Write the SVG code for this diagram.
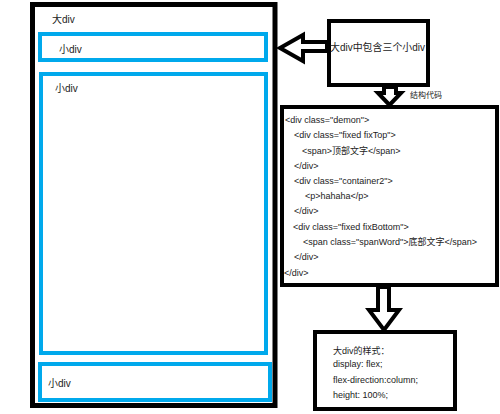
<svg xmlns="http://www.w3.org/2000/svg" width="500" height="414" viewBox="0 0 500 414">
<style>
.box{fill:#fff;stroke:#000;stroke-width:4}
.outer{fill:#fff;stroke:#000;stroke-width:5}
.blue{fill:#fff;stroke:#00a9ec;stroke-width:4}
.arrow{fill:#fff;stroke:#000;stroke-width:4;stroke-linejoin:miter}
text{font-family:"Liberation Sans","Noto Sans CJK SC",sans-serif;fill:#222}
.lbl{font-size:10px}
.code{font-size:9px}
.small{font-size:8px}
</style>
<rect width="500" height="414" fill="#fff"/>
<g id="big-div">
<rect class="outer" x="32.5" y="4.5" width="242.5" height="401"/>
<text class="lbl" x="52" y="23">大div</text>
</g>
<g id="small-div-top">
<rect class="blue" x="40" y="34" width="226" height="26"/>
<text class="lbl" x="59" y="53">小div</text>
</g>
<g id="small-div-middle">
<rect class="blue" x="41" y="74" width="225" height="279"/>
<text class="lbl" x="55" y="92">小div</text>
</g>
<g id="small-div-bottom">
<rect class="blue" x="40" y="364" width="230" height="36"/>
<text class="lbl" x="48" y="387">小div</text>
</g>
<g id="note">
<rect class="box" x="329" y="21" width="99" height="64"/>
<text class="lbl" x="330" y="51" textLength="95" lengthAdjust="spacingAndGlyphs">大div中包含三个小div</text>
</g>
<g id="code">
<rect class="box" x="282" y="107" width="215" height="178"/>
<g class="code">
<text x="285" y="123">&lt;div class="demon"&gt;</text>
<text x="294" y="138">&lt;div class="fixed fixTop"&gt;</text>
<text x="302" y="154">&lt;span&gt;顶部文字&lt;/span&gt;</text>
<text x="294" y="169">&lt;/div&gt;</text>
<text x="294" y="184">&lt;div class="container2"&gt;</text>
<text x="305" y="199">&lt;p&gt;hahaha&lt;/p&gt;</text>
<text x="294" y="214">&lt;/div&gt;</text>
<text x="293" y="230">&lt;div class="fixed fixBottom"&gt;</text>
<text x="303" y="245">&lt;span class="spanWord"&gt;底部文字&lt;/span&gt;</text>
<text x="294" y="260">&lt;/div&gt;</text>
<text x="284" y="276">&lt;/div&gt;</text>
</g>
</g>
<g id="style">
<rect class="box" x="315" y="332" width="140" height="77"/>
<g class="code">
<text x="333" y="354">大div的样式：</text>
<text x="333" y="367">display: flex;</text>
<text x="333" y="383">flex-direction:column;</text>
<text x="333" y="398">height: 100%;</text>
</g>
</g>
<g id="connectors">
<polygon class="arrow" points="280,48 303,35 303,42 327,42 327,51 303,51 303,61"/>
<polygon class="arrow" points="384,87 396,87 396,93 401,93 389.5,105 378,93 384,93"/>
<text class="small" x="410" y="98">结构代码</text>
<polygon class="arrow" points="378,287 389,287 389,310 399,310 384,330 369,310 378,310"/>
</g>
</svg>
